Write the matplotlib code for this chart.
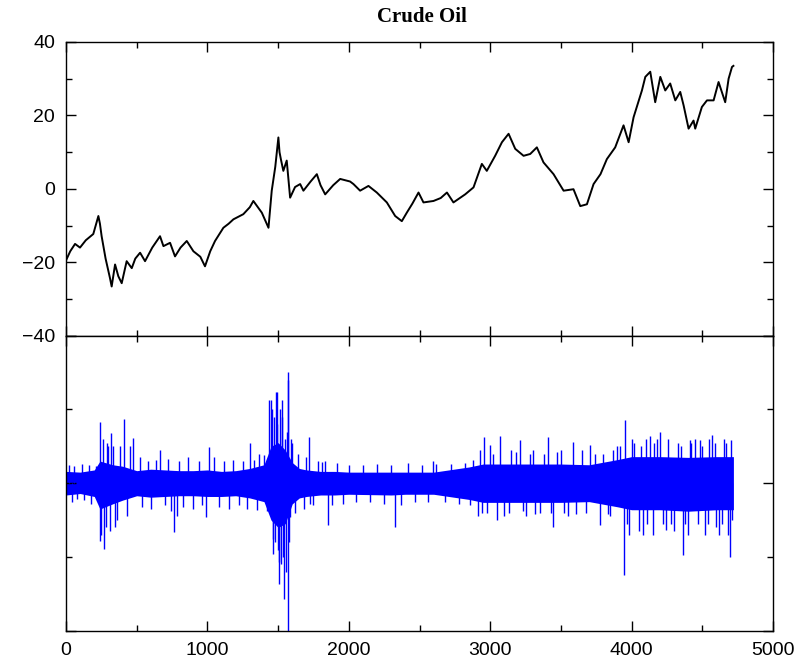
import matplotlib
matplotlib.use('Agg')
import matplotlib.pyplot as plt
from matplotlib.ticker import MultipleLocator, NullFormatter

price_x = [0, 30, 64, 99, 140, 193, 229, 240, 252, 280, 311, 323, 347, 370, 394, 429, 465,
           490, 524, 559, 610, 665, 689, 736, 771, 810, 854, 901, 950, 983, 1020, 1054,
           1113, 1150, 1184, 1254, 1300, 1325, 1385, 1432, 1455, 1480, 1502, 1510, 1520,
           1537, 1561, 1585, 1620, 1656, 1679, 1730, 1774, 1800, 1833, 1890, 1939, 2009,
           2033, 2080, 2139, 2198, 2269, 2328, 2375, 2410, 2450, 2493, 2528, 2599, 2650,
           2694, 2740, 2823, 2882, 2941, 2976, 3035, 3083, 3130, 3177, 3236, 3283, 3330,
           3377, 3448, 3519, 3589, 3637, 3684, 3731, 3780, 3825, 3884, 3943, 3979, 4014,
           4073, 4097, 4132, 4167, 4203, 4238, 4273, 4309, 4344, 4368, 4403, 4438, 4450,
           4497, 4533, 4580, 4615, 4662, 4686, 4710, 4720]
price_y = [-19.5, -17.0, -15.0, -16.0, -14.0, -12.3, -7.4, -9.5, -12.9, -19.0, -24.3,
           -26.6, -20.6, -23.8, -25.7, -19.7, -21.6, -19.0, -17.4, -19.7, -16.0, -12.9,
           -15.6, -14.7, -18.4, -16.0, -14.2, -17.0, -18.5, -21.1, -17.0, -14.2, -10.6,
           -9.5, -8.3, -6.9, -5.0, -3.3, -6.5, -10.6, -0.5, 6.0, 14.0, 10.0, 8.0, 4.9,
           7.7, -2.4, 0.5, 1.3, -0.5, 2.0, 4.0, 1.0, -1.5, 1.0, 2.7, 2.0, 1.3, -0.5,
           0.8, -1.0, -3.7, -7.4, -8.8, -6.5, -4.0, -1.0, -3.7, -3.3, -2.5, -1.0, -3.7,
           -1.5, 0.4, 6.8, 4.9, 9.0, 12.7, 15.0, 10.9, 9.0, 9.5, 11.3, 7.2, 4.0, -0.5,
           -0.1, -4.7, -4.2, 1.3, 4.0, 8.1, 11.3, 17.3, 12.7, 19.5, 26.8, 30.5, 31.9,
           23.6, 30.5, 26.8, 28.7, 24.1, 26.4, 22.7, 16.4, 18.6, 16.4, 22.3, 24.1, 24.1,
           29.1, 23.6, 30.0, 33.2, 33.5]

# returns: dense core band (x, upper and lower edge, percent)
band_x = [0, 100, 200, 240, 330, 400, 500, 600, 700, 800, 900, 1000, 1100, 1200,
          1300, 1400, 1450, 1500, 1550, 1600, 1650, 1700, 1800, 1900, 2000, 2300,
          2400, 2600, 2850, 2950, 3200, 3500, 3700, 3900, 4000, 4200, 4400, 4600, 4720]
band_hi = [1.6, 1.5, 1.8, 3.0, 2.5, 2.3, 1.7, 1.9, 1.8, 1.7, 1.7, 1.8, 1.6, 1.7,
           2.0, 2.5, 5.0, 5.5, 4.5, 2.8, 2.0, 1.8, 1.6, 1.6, 1.5, 1.5, 1.5, 1.5,
           2.2, 2.6, 2.6, 2.6, 2.5, 3.2, 3.6, 3.6, 3.5, 3.6, 3.6]
band_lo = [-1.6, -1.4, -1.8, -3.5, -2.8, -2.3, -1.7, -1.9, -1.8, -1.7, -1.7, -1.8,
           -1.8, -1.7, -2.0, -2.5, -5.0, -6.0, -5.5, -2.8, -2.0, -1.8, -1.6, -1.6,
           -1.5, -1.6, -1.5, -1.5, -2.2, -2.6, -2.6, -2.6, -2.5, -3.2, -3.6, -3.6,
           -3.8, -3.6, -3.6]

# returns: isolated spikes (index, percent)
spike_x = [240, 240, 250, 260, 271, 280, 290, 300, 310, 318, 330, 350, 360, 380, 410,
           430, 450, 472, 665, 766, 783, 988, 1014, 1302, 1368, 1439, 1450, 1455, 1462,
           1467, 1470, 1478, 1486, 1490, 1495, 1500, 1505, 1507, 1515, 1520, 1526, 1530,
           1535, 1543, 1550, 1555, 1560, 1568, 1573, 1573, 1580, 1585, 1590, 1597, 1722,
           1726, 1809, 1851, 2328, 2597, 2915, 2930, 2957, 2980, 3000, 3050, 3070, 3100,
           3150, 3212, 3250, 3300, 3350, 3410, 3446, 3500, 3550, 3587, 3650, 3707, 3778,
           3850, 3900, 3948, 3955, 3980, 4000, 4050, 4082, 4100, 4130, 4150, 4180, 4203,
           4240, 4260, 4300, 4330, 4365, 4400, 4410, 4450, 4486, 4520, 4550, 4570, 4600,
           4620, 4650, 4680, 4693, 4700]
spike_y = [8.3, -7.8, -7.0, 6.0, -8.9, -6.0, 5.5, 5.0, -6.5, 6.8, 5.0, -6.0, -5.0,
           5.0, 8.7, -4.5, 5.0, 6.1, 4.5, -6.6, -4.4, -4.6, 4.9, 5.4, 4.0, 11.3, 11.3,
           10.0, -7.5, -9.6, 9.0, -8.0, 12.4, 12.4, 8.0, -9.0, -10.7, -13.6, 10.0,
           -11.0, 11.3, 9.0, -10.0, -15.7, 6.0, -12.0, 7.0, 14.0, 15.1, -20.0, -8.0,
           -4.6, 6.0, 5.4, 6.3, -2.8, 2.9, -5.7, -6.0, 3.0, -4.5, 4.5, 6.3, -4.0, 5.2,
           -5.0, 6.4, -4.5, 4.5, 5.9, -4.5, 4.5, -4.0, 6.3, -6.0, 4.5, -4.5, 5.6, 4.5,
           5.2, -5.7, -4.5, 5.0, -12.5, 8.6, -7.0, 6.0, -6.5, -7.0, 6.0, 6.4, -7.0,
           6.0, 7.0, -6.4, 6.0, -6.5, 5.5, -9.8, -7.0, 5.9, 6.0, 5.9, -7.0, 6.0, 6.5,
           -6.0, -7.0, 6.0, -7.0, -10.0, 5.9]

# returns: small spikes that make the ragged edge of the band (index, percent)
edge_x = [20, 40, 60, 80, 110, 130, 160, 180, 210, 520, 540, 580, 600, 640, 700,
          720, 740, 800, 830, 860, 900, 940, 960, 1050, 1080, 1120, 1150, 1180, 1220,
          1250, 1280, 1330, 1350, 1400, 1420, 1620, 1640, 1680, 1700, 1750, 1780, 1830,
          1880, 1920, 1960, 2000, 2050, 2100, 2150, 2200, 2250, 2300, 2370, 2420, 2470,
          2520, 2560, 2620, 2680, 2720, 2780, 2820, 2860, 2880, 2940, 3020, 3130, 3180,
          3230, 3280, 3320, 3380, 3430, 3470, 3520, 3610, 3680, 3740, 3800, 3830, 3870,
          3920, 3970, 4020, 4070, 4110, 4160, 4220, 4280, 4350, 4380, 4420, 4470, 4500,
          4540, 4590, 4640, 4670, 4710]
edge_y = [2.5, -2.6, 2.3, -2.2, 2.6, -2.3, 2.5, -2.8, 2.4, 3.5, -3.2, 3.0, -3.5, 3.2,
          -3.0, 3.3, -3.8, 3.0, -3.2, 3.5, -3.5, 3.0, -3.0, 3.5, -3.2, 3.0, -3.5, 3.2,
          -3.0, 3.0, -3.5, 3.2, -3.6, 3.8, -3.8, -4.0, 4.0, -3.5, 3.5, -3.0, 3.0, 3.0,
          -3.0, 2.8, -2.8, 2.5, -2.5, 2.5, -2.5, 2.6, -2.8, 2.5, -3.0, 2.8, -2.6, 2.5,
          -2.6, 2.6, -2.5, 2.6, -2.8, 2.8, -3.0, 3.2, -4.0, 4.0, -4.0, 4.2, -3.8, 4.0,
          -4.2, 4.0, -4.0, 4.2, -4.0, -4.2, -4.0, 4.0, 4.0, -4.2, 4.5, 5.0, -5.5, 5.5,
          5.0, -5.5, 5.5, -5.5, -5.5, 5.0, -5.5, 5.5, -5.5, 5.0, -5.5, 5.5, -5.5, 5.5,
          -5.0]

fig = plt.figure(figsize=(8.02, 6.61), dpi=100)
ax1 = fig.add_axes([66/802, 1-335.7/661, 707/802, 293.7/661])
ax2 = fig.add_axes([66/802, 1-630.7/661, 707/802, 295/661])

ax1.plot(price_x, price_y, color='black', lw=1.4)
ax1.set_ylim(-40, 40)
ax1.yaxis.set_major_locator(MultipleLocator(20))
ax1.yaxis.set_minor_locator(MultipleLocator(10))

ax2.fill_between(band_x, band_hi, band_lo, color='blue', lw=0)
ax2.vlines(spike_x, 0, spike_y, color='blue', lw=1)
ax2.vlines(edge_x, 0, edge_y, color='blue', lw=1)
ax2.set_ylim(-20, 20)
ax2.yaxis.set_major_locator(MultipleLocator(20))
ax2.yaxis.set_minor_locator(MultipleLocator(10))
ax2.yaxis.set_major_formatter(NullFormatter())

for ax in (ax1, ax2):
    ax.set_xlim(0, 5000)
    ax.xaxis.set_major_locator(MultipleLocator(1000))
    ax.xaxis.set_minor_locator(MultipleLocator(500))
    ax.tick_params(which='both', direction='in', top=True, right=True)
    ax.tick_params(which='major', length=7, width=1)
    ax.tick_params(which='minor', length=4, width=1)
    ax.tick_params(labelsize=14, pad=8)
    for lab in ax.get_xticklabels() + ax.get_yticklabels():
        lab.set_family('Liberation Sans')
    for s in ax.spines.values():
        s.set_linewidth(1)

ax1.xaxis.set_major_formatter(NullFormatter())

fig.text(422/802, 1-17/661, 'Crude Oil', ha='center', va='center',
         family='Liberation Serif', fontweight='bold', fontsize=15)

plt.savefig('out.png')
